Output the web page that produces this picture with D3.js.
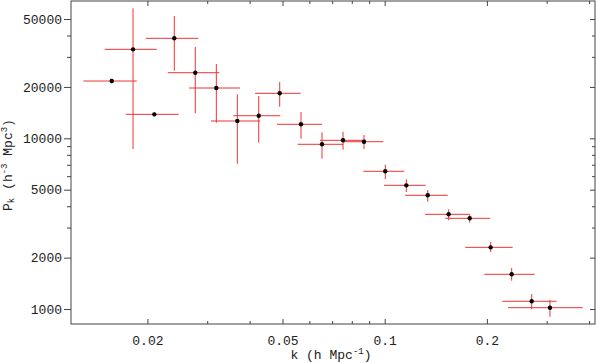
<!DOCTYPE html>
<html>
<head>
<meta charset="utf-8">
<script src="https://cdn.jsdelivr.net/npm/d3@7"></script>
<style>
  body { margin: 0; background: #fff; }
  text { font-family: "Liberation Mono", "Courier New", monospace; fill: #222; }
</style>
</head>
<body>
<svg id="chart" width="596" height="363"></svg>
<script>
// --------------- Data ---------------
const kMid = [0.0157, 0.01814, 0.02096, 0.0240, 0.02767, 0.03192, 0.0368, 0.04255, 0.04906, 0.05668, 0.06536,
  0.07538, 0.0869, 0.1004, 0.1158, 0.1339, 0.1543, 0.178, 0.2052, 0.2366, 0.271, 0.3068];
const kLow = [0.01295, 0.01497, 0.01726, 0.01981, 0.02295, 0.02652, 0.03079, 0.03582, 0.0415, 0.04817, 0.05541,
  0.06448, 0.07553, 0.0865, 0.0995, 0.1148, 0.1314, 0.1508, 0.1727, 0.1965, 0.2221, 0.2308];
const kHigh = [0.0186, 0.0213, 0.02473, 0.02825, 0.03257, 0.03748, 0.04293, 0.04926, 0.05656, 0.06536, 0.07553,
  0.08809, 0.09906, 0.1142, 0.1321, 0.1533, 0.1784, 0.2046, 0.2382, 0.2766, 0.3211, 0.3831];
const pk = [21660, 33210, 13820, 38530, 24230, 19710, 12630, 13560, 18350, 12080, 9224,
  9734, 9552, 6409, 5304, 4636, 3587, 3399, 2298, 1597, 1110, 1018];
const pkLow = [21000, 8657, 13450, 24890, 14010, 12340, 7100, 9424, 15310, 9946, 7596,
  8577, 8657, 5774, 4847, 4252, 3309, 3204, 2158, 1465, 996, 901];
const pkHigh = [22300, 57770, 14200, 52060, 34260, 27250, 18100, 17690, 21370, 14260, 10840,
  10930, 10450, 7004, 5751, 4979, 3837, 3553, 2469, 1739, 1224, 1129];

const xMajor = [0.02, 0.05, 0.1, 0.2];
const xMinor = [0.03, 0.04, 0.06, 0.07, 0.08, 0.09, 0.3, 0.4];
const yMajor = [1000, 2000, 5000, 10000, 20000, 50000];
const yMinor = [3000, 4000, 6000, 7000, 8000, 9000, 30000, 40000];

// --------------- Layout ---------------
const LEFT = 71, RIGHT = 595, TOP = 1, BOTTOM = 324;
const BAR_COLOR = "#f03333";
const AXIS_COLOR = "#444";

const svg = d3.select("#chart");

const x = d3.scaleLog().domain([0.01191, 0.4164]).range([LEFT, RIGHT]);
const y = d3.scaleLog().domain([817, 63740]).range([BOTTOM, TOP]);

const points = kMid.map((k, i) => ({
  k, kLo: kLow[i], kHi: kHigh[i], p: pk[i], pLo: pkLow[i], pHi: pkHigh[i]
}));

// --------------- Axes ---------------
function styleAxis(g) {
  g.select(".domain").remove();
  g.selectAll("line").attr("stroke", AXIS_COLOR);
  g.selectAll("text").attr("font-size", 13).attr("fill", "#222");
}

// left: ticks point outward
svg.append("g")
  .attr("transform", `translate(${LEFT},0)`)
  .call(d3.axisLeft(y).tickValues(yMajor).tickFormat(d3.format("d")).tickSize(7).tickPadding(2))
  .call(styleAxis);
svg.append("g")
  .attr("transform", `translate(${LEFT},0)`)
  .call(d3.axisLeft(y).tickValues(yMinor).tickFormat("").tickSize(4))
  .call(styleAxis);

// right: ticks point inward
svg.append("g")
  .attr("transform", `translate(${RIGHT},0)`)
  .call(d3.axisRight(y).tickValues(yMajor).tickFormat("").tickSize(-5))
  .call(styleAxis);
svg.append("g")
  .attr("transform", `translate(${RIGHT},0)`)
  .call(d3.axisRight(y).tickValues(yMinor).tickFormat("").tickSize(-3))
  .call(styleAxis);

// bottom: ticks point inward
svg.append("g")
  .attr("transform", `translate(0,${BOTTOM})`)
  .call(d3.axisBottom(x).tickValues(xMajor).tickFormat(d3.format("")).tickSize(-5).tickPadding(12))
  .call(styleAxis);
svg.append("g")
  .attr("transform", `translate(0,${BOTTOM})`)
  .call(d3.axisBottom(x).tickValues(xMinor).tickFormat("").tickSize(-3))
  .call(styleAxis);

// top: ticks point inward
svg.append("g")
  .attr("transform", `translate(0,${TOP})`)
  .call(d3.axisTop(x).tickValues(xMajor).tickFormat("").tickSize(-5))
  .call(styleAxis);
svg.append("g")
  .attr("transform", `translate(0,${TOP})`)
  .call(d3.axisTop(x).tickValues(xMinor).tickFormat("").tickSize(-3))
  .call(styleAxis);

// frame
svg.append("rect")
  .attr("x", LEFT)
  .attr("y", TOP)
  .attr("width", RIGHT - LEFT)
  .attr("height", BOTTOM - TOP)
  .attr("fill", "none")
  .attr("stroke", AXIS_COLOR)
  .attr("stroke-width", 1);

// --------------- Titles ---------------
const xTitle = svg.append("text")
  .attr("x", 331)
  .attr("y", 359)
  .attr("text-anchor", "middle")
  .attr("font-size", 13);
xTitle.append("tspan").text("k (h Mpc");
xTitle.append("tspan").attr("font-size", 9).attr("baseline-shift", "5").text("-1");
xTitle.append("tspan").text(")");

const yTitle = svg.append("text")
  .attr("transform", "translate(12,165) rotate(-90)")
  .attr("text-anchor", "middle")
  .attr("font-size", 13);
yTitle.append("tspan").text("P");
yTitle.append("tspan").attr("font-size", 9).attr("baseline-shift", "-2").text("k");
yTitle.append("tspan").text(" (h");
yTitle.append("tspan").attr("font-size", 9).attr("baseline-shift", "5").text("-3");
yTitle.append("tspan").text(" Mpc");
yTitle.append("tspan").attr("font-size", 9).attr("baseline-shift", "5").text("3");
yTitle.append("tspan").text(")");

// --------------- Error bars and points ---------------
const bars = svg.append("g").attr("data-container", "errorbars");

bars.selectAll("line.h")
  .data(points)
  .enter()
  .append("line")
  .attr("class", "h")
  .attr("x1", (d) => x(d.kLo))
  .attr("x2", (d) => x(d.kHi))
  .attr("y1", (d) => y(d.p))
  .attr("y2", (d) => y(d.p))
  .attr("stroke", BAR_COLOR)
  .attr("stroke-width", 1);

bars.selectAll("line.v")
  .data(points)
  .enter()
  .append("line")
  .attr("class", "v")
  .attr("x1", (d) => x(d.k))
  .attr("x2", (d) => x(d.k))
  .attr("y1", (d) => y(d.pLo))
  .attr("y2", (d) => y(d.pHi))
  .attr("stroke", BAR_COLOR)
  .attr("stroke-width", 1);

svg.append("g")
  .attr("data-container", "points")
  .selectAll("circle")
  .data(points)
  .enter()
  .append("circle")
  .attr("cx", (d) => x(d.k))
  .attr("cy", (d) => y(d.p))
  .attr("r", 2.2)
  .attr("fill", "#000");
</script>
</body>
</html>
